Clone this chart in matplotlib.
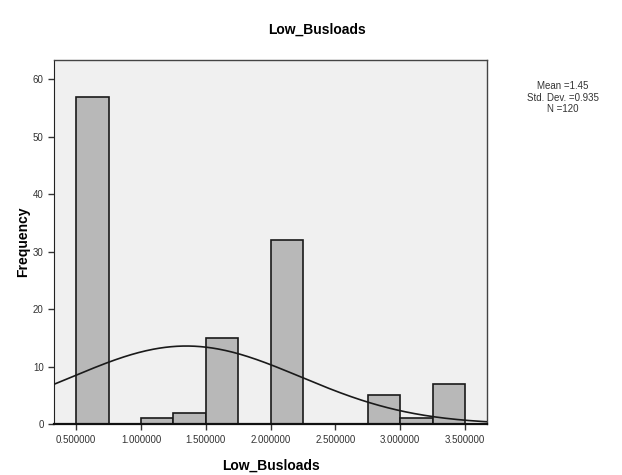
import numpy as np
import matplotlib.pyplot as plt

plt.rcParams['font.family'] = ['Liberation Sans', 'DejaVu Sans']

# bins (left edges) and frequencies
bin_left = [0.50, 1.00, 1.25, 1.50, 2.00, 2.75, 3.00, 3.25]
freq = [57, 1, 2, 15, 32, 5, 1, 7]
bin_width = 0.25
x_ticks = [0.5, 1.0, 1.5, 2.0, 2.5, 3.0, 3.5]
y_ticks = [0, 10, 20, 30, 40, 50, 60]

# normal curve as drawn in the picture
curve_mean = 1.35
curve_sd = 0.88
n_total = 120

fig = plt.figure(figsize=(6.22, 4.75), dpi=100)
ax = fig.add_axes([0.087, 0.107, 0.696, 0.767])
ax.set_facecolor('#f0f0f0')

ax.bar(bin_left, freq, width=bin_width, align='edge', color='#b8b8b8',
       edgecolor='#1a1a1a', linewidth=1.2, zorder=2)

xs = np.linspace(0.3, 3.7, 300)
ys = n_total * bin_width / (curve_sd * np.sqrt(2 * np.pi)) * np.exp(-0.5 * ((xs - curve_mean) / curve_sd) ** 2)
ax.plot(xs, ys, color='#1a1a1a', linewidth=1.2, zorder=3)

ax.set_xlim(0.33, 3.67)
ax.set_ylim(0, 63.4)
ax.set_xticks(x_ticks)
ax.set_xticklabels(['%.6f' % t for t in x_ticks])
ax.set_yticks(y_ticks)
ax.tick_params(axis='both', labelsize=7, colors='#333333', length=4, width=1)

for s in ['top', 'right']:
    ax.spines[s].set_color('#444444')
    ax.spines[s].set_linewidth(1)
ax.spines['left'].set_color('#222222')
ax.spines['bottom'].set_color('#111111')
ax.spines['bottom'].set_linewidth(1.6)
ax.spines['bottom'].set_zorder(4)

ax.set_xlabel('Low_Busloads', fontsize=10, fontweight='bold', labelpad=10)
ax.set_ylabel('Frequency', fontsize=10, fontweight='bold', labelpad=2)

fig.text(0.51, 0.937, 'Low_Busloads', ha='center', va='center', fontsize=10, fontweight='bold')
fig.text(0.905, 0.794, 'Mean =1.45\nStd. Dev. =0.935\nN =120', ha='center', va='center',
         fontsize=7, color='#333333', linespacing=1.2)

fig.savefig('out.png', dpi=100)
